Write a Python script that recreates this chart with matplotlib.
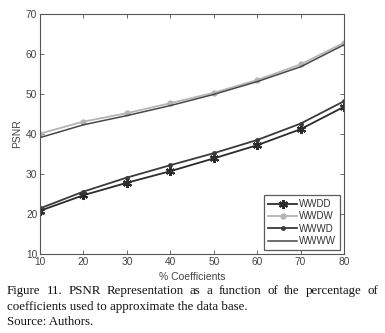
import matplotlib
matplotlib.use("Agg")
import matplotlib.pyplot as plt

coeffs = [10, 20, 30, 40, 50, 60, 70, 80]
wwdd = [20.8, 24.7, 27.8, 30.7, 33.9, 37.2, 41.2, 46.8]
wwdw = [40.1, 43.1, 45.2, 47.7, 50.3, 53.5, 57.4, 62.8]
wwwd = [21.4, 25.6, 29.1, 32.2, 35.2, 38.5, 42.6, 48.2]
wwww = [39.1, 42.3, 44.6, 47.1, 49.9, 53.1, 56.8, 62.3]
xticks = [10, 20, 30, 40, 50, 60, 70, 80]
yticks = [10, 20, 30, 40, 50, 60, 70]

W, H = 385, 333
fig = plt.figure(figsize=(W/100, H/100), dpi=100)
ax = fig.add_axes([40/W, 1-254/H, 304/W, 240/H])

ax.plot(coeffs, wwdd, color='#2b2b2b', lw=1.3, marker=(6, 2, 0), ms=6.5, mew=1.5, label='WWDD')
ax.plot(coeffs, wwdw, color='#b4b4b4', lw=1.3, marker='o', ms=3.5, mec='#b4b4b4', label='WWDW')
ax.plot(coeffs, wwwd, color='#3a3a3a', lw=1.3, marker='.', ms=5, label='WWWD')
ax.plot(coeffs, wwww, color='#474747', lw=1.1, label='WWWW')

ax.set_xlim(10, 80)
ax.set_ylim(10, 70)
ax.set_xticks(xticks)
ax.set_yticks(yticks)
for s in ax.spines.values():
    s.set_color('#555555')
    s.set_linewidth(0.8)
ax.tick_params(direction='in', top=True, right=True, length=3, width=0.6,
               colors='#555555', labelsize=7.3, labelcolor='#444444', pad=2)
for lab in ax.get_xticklabels() + ax.get_yticklabels():
    lab.set_family('Liberation Sans')
ax.set_xlabel('% Coefficients', family='Liberation Sans', fontsize=7.5, color='#444444', labelpad=4)
ax.set_ylabel('PSNR', family='Liberation Sans', fontsize=7.5, color='#444444', labelpad=3)

leg = ax.legend(loc='lower right', prop={'family': 'Liberation Sans', 'size': 7},
                frameon=True, fancybox=False, borderpad=0.4, labelspacing=0.25,
                handlelength=3.0, handletextpad=0.2, borderaxespad=0.4)
leg.get_frame().set_edgecolor('#333333')
leg.get_frame().set_linewidth(0.9)
for t in leg.get_texts():
    t.set_color('#333333')

# caption, justified first line
cap1 = "Figure 11. PSNR Representation as a function of the percentage of"
cap2 = "coefficients used to approximate the data base."
cap3 = "Source: Authors."
fs = 9.3
x0, x1 = 7/W, 378/W
fig.canvas.draw()
r = fig.canvas.get_renderer()
words = cap1.split()
widths = []
for w in words:
    t = fig.text(0, 0, w, family='Liberation Serif', fontsize=fs)
    widths.append(t.get_window_extent(r).width / W)
    t.remove()
gap = (x1 - x0 - sum(widths)) / (len(words) - 1)
x = x0
y1 = 1 - 291/H
for w, wd in zip(words, widths):
    fig.text(x, y1, w, family='Liberation Serif', fontsize=fs, va='center', color='#111111')
    x += wd + gap
fig.text(x0, 1 - 307/H, cap2, family='Liberation Serif', fontsize=fs, va='center', color='#111111')
fig.text(x0, 1 - 322/H, cap3, family='Liberation Serif', fontsize=fs, va='center', color='#111111')

fig.savefig('out.png', dpi=100)
